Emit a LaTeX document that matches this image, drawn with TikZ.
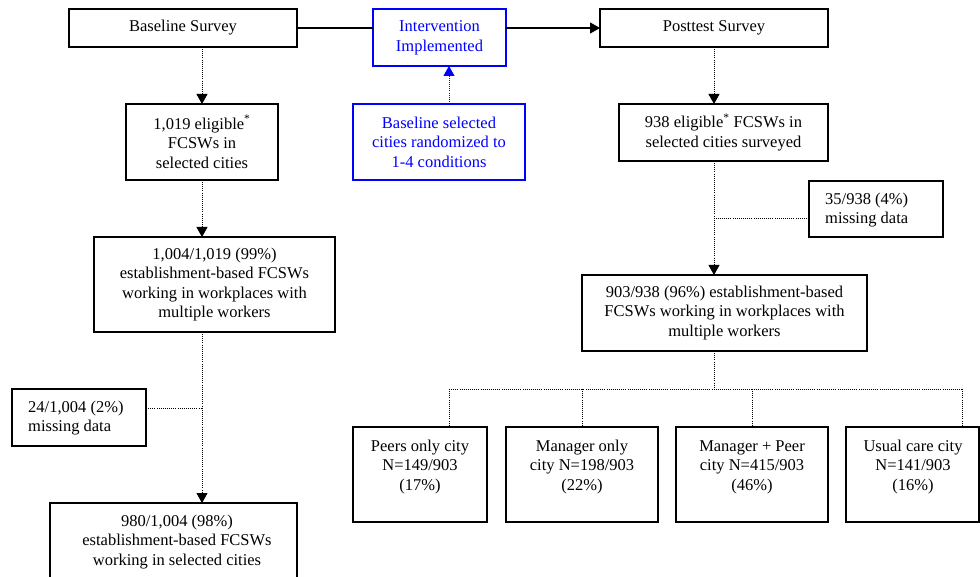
\documentclass[tikz,border=0pt]{standalone}
\usepackage{fontspec}
\setmainfont{Liberation Serif}
\usetikzlibrary{arrows.meta}
\definecolor{pblue}{RGB}{0,0,255}
\begin{document}
\begin{tikzpicture}[x=1pt,y=-1pt,
  font=\fontsize{16.5}{19.6}\selectfont,
  box/.style={draw, line width=1.1pt, inner sep=0pt, outer sep=0pt, align=center},
  bbox/.style={box, draw=pblue, text=pblue},
  txt/.style={inner sep=0pt, align=center},
  ltxt/.style={inner sep=0pt, align=left, anchor=west},
  solidln/.style={line width=1.2pt},
  dotln/.style={line width=0.9pt, dash pattern=on 0.9pt off 1.2pt},
  tip/.style={-{Triangle[length=10pt,width=11pt]}}]
\useasboundingbox (0,0) rectangle (980,577);
\clip (0,0) rectangle (980,577);

% top row
\node[box, minimum width=228pt, minimum height=38pt] (base) at (183,28) {Baseline Survey};
\node[bbox, minimum width=133pt, minimum height=57pt] (interv) at (439.5,37.5) {Intervention\\Implemented};
\node[box, minimum width=228pt, minimum height=38pt] (post) at (714,28) {Posttest Survey};

% second row
\node[box, minimum width=152pt, minimum height=76pt] (elig1) at (202,142) {1,019 eligible\textsuperscript{*}\\FCSWs in\\selected cities};
\node[bbox, minimum width=172pt, minimum height=76pt] (rand) at (439,142) {Baseline selected\\cities randomized to\\1-4 conditions};
\node[box, minimum width=209pt, minimum height=57pt] (elig2) at (723.5,132.5) {938 eligible\textsuperscript{*} FCSWs in\\selected cities surveyed};

% left column
\node[box, minimum width=241pt, minimum height=95pt] (est1) at (214.5,284.5) {1,004/1,019 (99\%)\\establishment-based FCSWs\\working in workplaces with\\multiple workers};
\node[box, minimum width=134pt, minimum height=57pt] (miss1) at (79,417.5) {};
\node[ltxt] (miss1t) at (28,418) {24/1,004 (2\%)\\missing data};
\node[box, minimum width=247pt, minimum height=95pt] (final1) at (173.5,550.5) {};
\node[txt] (final1t) at (177,542) {980/1,004 (98\%)\\establishment-based FCSWs\\working in selected cities};

% right column
\node[box, minimum width=134pt, minimum height=56pt] (miss2) at (876,209) {};
\node[ltxt] (miss2t) at (825,210) {35/938 (4\%)\\missing data};
\node[box, minimum width=285pt, minimum height=76pt] (est2) at (724.5,313) {903/938 (96\%) establishment-based\\FCSWs working in workplaces with\\multiple workers};

% bottom boxes
\node[box, minimum width=134pt, minimum height=95pt] (peers) at (420,474.5) {};
\node[txt] (peerst) at (420,467) {Peers only city\\N=149/903\\(17\%)};
\node[box, minimum width=152pt, minimum height=95pt] (mgr) at (582,474.5) {};
\node[txt] (mgrt) at (582,467) {Manager only\\city N=198/903\\(22\%)};
\node[box, minimum width=152pt, minimum height=95pt] (mp) at (752,474.5) {};
\node[txt] (mpt) at (752,467) {Manager + Peer\\city N=415/903\\(46\%)};
\node[box, minimum width=133pt, minimum height=95pt] (usual) at (912.5,474.5) {};
\node[txt] (usualt) at (913,467) {Usual care city\\N=141/903\\(16\%)};

% connectors: top
\draw[solidln] (base.east) -- (base.east -| interv.west);
\draw[solidln, tip] (post.west -| interv.east) -- (post.west);
\draw[dotln, tip] (elig1.north |- base.south) -- (elig1.north);
\draw[dotln, pblue, tip] ([xshift=10pt]rand.north) -- ([xshift=10pt]rand.north |- interv.south);
\draw[dotln, tip] (post.south) -- (post.south |- elig2.north);

% left column connectors
\draw[dotln, tip] (elig1.south) -- (elig1.south |- est1.north);
\draw[dotln, tip] (elig1.south |- est1.south) -- (elig1.south |- final1.north);
\draw[dotln] ([yshift=9.5pt]miss1.east) -- ([yshift=9.5pt]miss1.east -| elig1.south);

% right column connectors
\draw[dotln, tip] (elig2.south -| post.south) -- (est2.north -| post.south);
\draw[dotln] ([yshift=-9pt]miss2.west) -- ([yshift=-9pt]miss2.west -| post.south);

% branching
\coordinate (br) at (714,389);
\coordinate (p1) at ([xshift=29pt]peers.north);
\coordinate (p4) at ([xshift=49.5pt]usual.north);
\draw[dotln] (est2.south -| post.south) -- (br);
\draw[dotln] (p1 |- br) -- (p4 |- br);
\draw[dotln] (p1 |- br) -- (p1);
\draw[dotln] (mgr.north |- br) -- (mgr.north);
\draw[dotln] (mp.north |- br) -- (mp.north);
\draw[dotln] (p4 |- br) -- (p4);
\end{tikzpicture}
\end{document}
